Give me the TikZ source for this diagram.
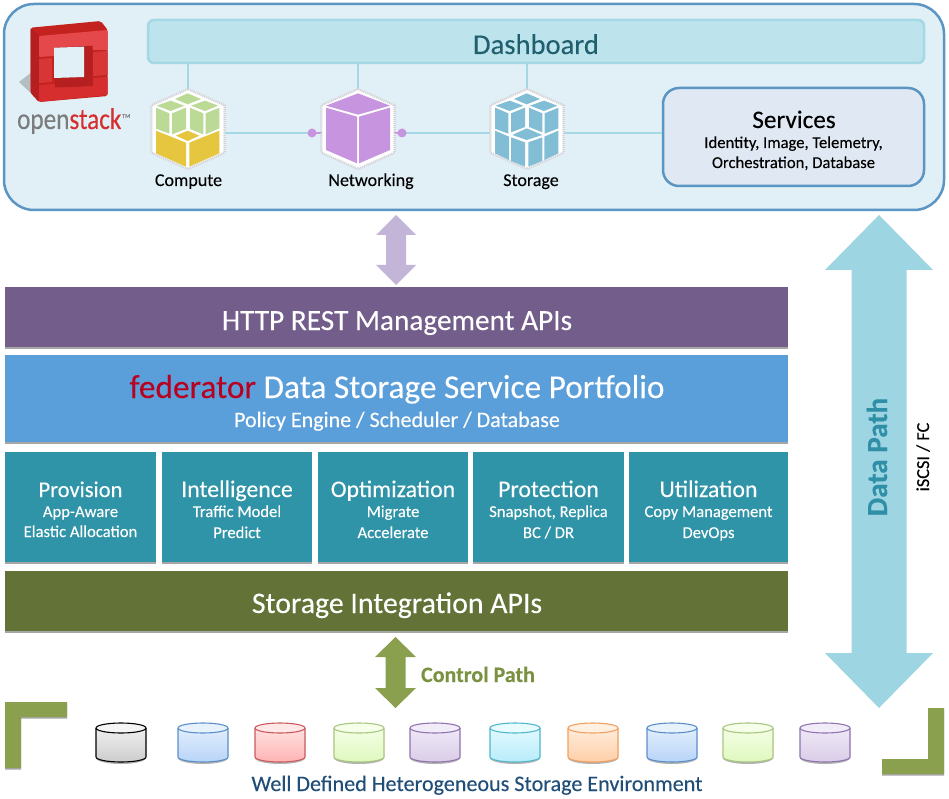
\documentclass[tikz,border=0pt]{standalone}
\usepackage{fontspec}
\setmainfont{Carlito}[FakeBold=0.15]
\usetikzlibrary{calc,shadows}
\definecolor{panelfill}{HTML}{E1F0F6}
\definecolor{panelline}{HTML}{5B95C4}
\definecolor{dashfill}{HTML}{BDE3EC}
\definecolor{dashline}{HTML}{A3D8E4}
\definecolor{servfill}{HTML}{E0E9F3}
\definecolor{linkline}{HTML}{A3D8E4}
\definecolor{barpurple}{HTML}{735E8B}
\definecolor{barblue}{HTML}{5B9FDA}
\definecolor{barteal}{HTML}{2F94A8}
\definecolor{barolive}{HTML}{637338}
\definecolor{arrowolive}{HTML}{8AA04F}
\definecolor{arrowpurple}{HTML}{C3B5D8}
\definecolor{arrowblue}{HTML}{9DD5E3}
\definecolor{textdash}{HTML}{1F5F6E}
\definecolor{textdata}{HTML}{2F8FA6}
\definecolor{textctrl}{HTML}{7A9140}
\definecolor{textwell}{HTML}{1F4E79}
\definecolor{fedred}{HTML}{B80020}
\definecolor{cubegreen}{HTML}{BBDA96}
\definecolor{cubeyellow}{HTML}{E6C63E}
\definecolor{cubepurple}{HTML}{C795E0}
\definecolor{cubeblue}{HTML}{82BDD6}
\definecolor{stampgrey}{HTML}{D6D2D6}
\definecolor{osfront}{HTML}{E5484B}
\definecolor{osmid}{HTML}{D83636}
\definecolor{oslow}{HTML}{D62E2E}
\definecolor{osdark}{HTML}{B51F1F}
\definecolor{ostop}{HTML}{C4221F}
\definecolor{osgrey}{HTML}{7A7C7E}
\definecolor{osshadow}{HTML}{B4BDC0}
\definecolor{gline}{HTML}{000000}\definecolor{gtop}{HTML}{F5F5F5}\definecolor{gbot}{HTML}{CCCCCC}
\definecolor{bline}{HTML}{5B8FC9}\definecolor{btop}{HTML}{E8F2FD}\definecolor{bbot}{HTML}{B8D4F8}
\definecolor{rline}{HTML}{CC5A5F}\definecolor{rtop}{HTML}{FFE8E8}\definecolor{rbot}{HTML}{FFB3B3}
\definecolor{nline}{HTML}{A8C680}\definecolor{ntop}{HTML}{F6FFEA}\definecolor{nbot}{HTML}{E0F8C0}
\definecolor{vline}{HTML}{8F74AE}\definecolor{vtop}{HTML}{F2ECF9}\definecolor{vbot}{HTML}{DACDE8}
\definecolor{cline}{HTML}{4FB8CC}\definecolor{ctop}{HTML}{E8FBFF}\definecolor{cbot}{HTML}{B8ECFA}
\definecolor{oline}{HTML}{F0A060}\definecolor{otop}{HTML}{FFF0E2}\definecolor{obot}{HTML}{FFCFA8}
\tikzset{
  fs/.style={font=\fontsize{#1}{#1}\selectfont},
  softshadow/.style={drop shadow={shadow xshift=0pt,shadow yshift=-1.5pt,fill=black,opacity=.35}},
  bar/.style={rectangle,inner sep=0pt,softshadow},
  lbl/.style={inner sep=0pt,anchor=base,align=center},
  wlbl/.style={lbl,text=white},
  link/.style={draw=linkline,line width=1.5pt},
}
\newcommand{\stamphex}{%
  \fill[white] (0,-118) -- (108,-70) -- (108,70) -- (0,118) -- (-108,70) -- (-108,-70) -- cycle;
  \draw[stampgrey,line width=2.4pt,dash pattern=on 1pt off 1pt] (0,-120) -- (110,-71) -- (110,71) -- (0,120) -- (-110,71) -- (-110,-71) -- cycle;
}
\newcommand{\blockarrow}[6]{%
  \fill[#1] (#2) -- ($(#2)+(#4,#6)$) -- ($(#2)+(#5,#6)$) -- ($(#3)+(#5,-#6)$) -- ($(#3)+(#4,-#6)$) -- (#3)
    -- ($(#3)+(-#4,-#6)$) -- ($(#3)+(-#5,-#6)$) -- ($(#2)+(-#5,#6)$) -- ($(#2)+(-#4,#6)$) -- cycle;
}
\newcommand{\storecyl}[5]{%
  \coordinate (#1) at (#2,728);
  \fill[black,opacity=.3] (#2-25,732) -- (#2-25,758) arc[start angle=180,end angle=0,x radius=25,y radius=6] -- (#2+25,732) -- cycle;
  \shade[top color=#4,bottom color=#5] (#2-25,728) arc[start angle=180,end angle=360,x radius=25,y radius=5] -- (#2+25,757) arc[start angle=0,end angle=180,x radius=25,y radius=5] -- cycle;
  \draw[#3,line width=1.1pt,fill=#4] (#1) ellipse[x radius=25,y radius=5];
  \draw[#3,line width=1.1pt] (#2-25,728) -- (#2-25,757) arc[start angle=180,end angle=0,x radius=25,y radius=5] -- (#2+25,728);
}
\begin{document}
\begin{tikzpicture}[x=1pt,y=-1pt]
\useasboundingbox (0,0) rectangle (949,799);
\fill[white] (0,0) rectangle (949,799);

% top panel
\draw[panelline,fill=panelfill,line width=2.5pt,rounded corners=30pt] (4,4) rectangle (944,210);
\node (dash) at (536,41.5) [rectangle,draw=dashline,fill=dashfill,line width=2.5pt,rounded corners=6pt,minimum width=776pt,minimum height=43pt,inner sep=0pt] {};
\node (services) at (793.5,137) [rectangle,draw=panelline,fill=servfill,line width=2.5pt,rounded corners=16pt,minimum width=261pt,minimum height=98pt,inner sep=0pt] {};
\node[lbl,fs=28.6,text=textdash] (dashlabel) at (536,54) {Dashboard};
\node[lbl,fs=25.2] (servlabel) at (794,128) {Services};
\node[lbl,fs=16.6] (servline1) at (793.5,148) {Identity, Image, Telemetry,};
\node[lbl,fs=16.6] (servline2) at (793.5,168) {Orchestration, Database};

% connectors
\coordinate (computeC) at (188,129);
\coordinate (netC) at (358,129);
\coordinate (storC) at (527,129);
\coordinate (netDotL) at (312,133);
\coordinate (netDotR) at (402,133);
\coordinate (computeR) at (225,133);
\coordinate (storL) at (490,133);
\coordinate (storR) at (564,133);
\draw[link] (dash.south -| computeC) -- (computeC);
\draw[link] (dash.south -| netC) -- (netC);
\draw[link] (dash.south -| storC) -- (storC);
\draw[link] (computeR) -- (netDotL);
\draw[link] (netDotR) -- (storL);
\draw[link] (storR) -- (services.west |- storR);

% compute icon
\begin{scope}[shift={(computeC)},x=0.3333pt,y=-0.3333pt]
  \stamphex
  \fill[cubegreen] (-1,-107) -- (39,-90) -- (-1,-74) -- (-39,-90) -- cycle;
  \fill[cubegreen] (-52,-85) -- (-11,-70) -- (-52,-54) -- (-94,-70) -- cycle;
  \fill[cubegreen] (51,-85) -- (91,-70) -- (51,-54) -- (9,-70) -- cycle;
  \fill[cubegreen] (-96,-64) -- (-56,-47) -- (-56,14) -- (-96,-1) -- cycle;
  \fill[cubegreen] (-48,-47) -- (-6,-64) -- (-6,0) -- (-48,16) -- cycle;
  \fill[cubegreen] (6,-64) -- (46,-47) -- (46,16) -- (6,0) -- cycle;
  \fill[cubegreen] (53,-47) -- (94,-64) -- (94,-2) -- (53,16) -- cycle;
  \fill[cubeyellow] (-1,5) -- (34,20) -- (-1,36) -- (-36,20) -- cycle;
  \fill[cubeyellow] (-96,5) -- (-6,41) -- (-6,113) -- (-96,73) -- cycle;
  \fill[cubeyellow] (4,41) -- (94,5) -- (94,73) -- (4,113) -- cycle;
\end{scope}
% storage icon
\begin{scope}[shift={(storC)},x=0.3333pt,y=-0.3333pt]
  \stamphex
  \fill[cubeblue] (-1,-107) -- (39,-90) -- (-1,-74) -- (-39,-90) -- cycle;
  \fill[cubeblue] (-52,-85) -- (-11,-70) -- (-52,-54) -- (-94,-70) -- cycle;
  \fill[cubeblue] (51,-85) -- (91,-70) -- (51,-54) -- (9,-70) -- cycle;
  \fill[cubeblue] (-96,-64) -- (-56,-47) -- (-56,14) -- (-96,-1) -- cycle;
  \fill[cubeblue] (-48,-47) -- (-6,-64) -- (-6,-6) -- (-48,10) -- cycle;
  \fill[cubeblue] (6,-64) -- (46,-47) -- (46,10) -- (6,-6) -- cycle;
  \fill[cubeblue] (53,-47) -- (94,-64) -- (94,-2) -- (53,14) -- cycle;
  \fill[cubeblue] (-1,-2) -- (46,18) -- (-1,33) -- (-44,18) -- cycle;
  \fill[cubeblue] (-96,5) -- (-54,23) -- (-54,93) -- (-96,73) -- cycle;
  \fill[cubeblue] (-48,25) -- (-6,40) -- (-6,113) -- (-48,96) -- cycle;
  \fill[cubeblue] (4,40) -- (46,25) -- (46,96) -- (4,113) -- cycle;
  \fill[cubeblue] (52,23) -- (94,5) -- (94,73) -- (52,93) -- cycle;
\end{scope}
% networking icon and its two ports
\draw[cubepurple,line width=2pt] (netDotL) -- (netDotR);
\begin{scope}[shift={(netC)},x=0.3333pt,y=-0.3333pt]
  \stamphex
  \fill[cubepurple] (0,-107) -- (96,-70) -- (0,-43) -- (-96,-70) -- cycle;
  \fill[cubepurple] (-96,-64) -- (-3,-37) -- (-3,103) -- (-96,63) -- cycle;
  \fill[cubepurple] (3,-37) -- (96,-64) -- (96,63) -- (3,103) -- cycle;
\end{scope}
\fill[cubepurple] (netDotL) circle[radius=4.5];
\fill[cubepurple] (netDotR) circle[radius=4.5];
\node[lbl,fs=18] (computelabel) at (188.5,186) {Compute};
\node[lbl,fs=18] (netlabel) at (371,186) {Networking};
\node[lbl,fs=18] (storlabel) at (531,186) {Storage};

% OpenStack logo
\fill[osshadow] (19,82) -- (30.7,73) -- (30.7,93) -- cycle;
\fill[ostop,rounded corners=2pt] (30.7,27.7) -- (100.7,21) -- (107.7,30) -- (107.7,96) -- (39,102) -- (30.7,93) -- cycle;
\fill[osdark,rounded corners=1pt] (30.7,27.7) -- (39,36) -- (39,102) -- (30.7,93) -- cycle;
\fill[osfront,rounded corners=1pt] (39,36) -- (107.7,30) -- (107.7,50) -- (92,50) -- (92,46) -- (54,48) -- (54,56) -- (39,57) -- cycle;
\fill[osmid] (39,59) -- (52,58) -- (52,82) -- (39,83) -- cycle;
\fill[osmid] (93,52) -- (107.7,51) -- (107.7,75) -- (93,76) -- cycle;
\fill[oslow,rounded corners=1pt] (39,85) -- (55,84) -- (55,87) -- (93,86) -- (93,78) -- (107.7,77) -- (107.7,95) -- (39,102) -- cycle;
\fill[osdark] (54,47.7) -- (92.7,45.7) -- (92.7,86) -- (55,87.5) -- cycle;
\fill[panelfill] (54,47.7) -- (84,46.7) -- (84,77) -- (54,78) -- cycle;
\node[lbl,fs=30,anchor=base west,xscale=.84] (oslogo) at (17,129) {\textcolor{osgrey}{open}\textcolor{oslow}{stack}};
\node[lbl,fs=6,anchor=base west,text=osgrey] (ostm) at (122,118) {TM};

% stack of bars
\node[bar,fill=barpurple,minimum width=783pt,minimum height=60pt] (rest) at (396.5,317) {};
\node[bar,fill=barblue,minimum width=783pt,minimum height=87pt] (federator) at (396.5,398.5) {};
\node[bar,fill=barteal,minimum width=151pt,minimum height=110pt] (provision) at (80.5,507) {};
\node[bar,fill=barteal,minimum width=150pt,minimum height=110pt] (intelligence) at (237,507) {};
\node[bar,fill=barteal,minimum width=150pt,minimum height=110pt] (optimization) at (393,507) {};
\node[bar,fill=barteal,minimum width=151pt,minimum height=110pt] (protection) at (548.5,507) {};
\node[bar,fill=barteal,minimum width=159pt,minimum height=110pt] (utilization) at (708.5,507) {};
\node[bar,fill=barolive,minimum width=783pt,minimum height=60pt] (integration) at (396.5,601) {};

\node[wlbl,fs=29.3] (restlabel) at (397,330) {HTTP REST Management APIs};
\node[wlbl,fs=33.3] (fedlabel) at (397,398) {\textcolor{fedred}{federator} Data Storage Service Portfolio};
\node[wlbl,fs=22] (fedsub) at (397,427) {Policy Engine / Scheduler / Database};
\node[wlbl,fs=22.5] (t1) at (80.5,497) {Provision};
\node[wlbl,fs=16.6] (s1a) at (80.5,517) {App-Aware};
\node[wlbl,fs=16.6] (s1b) at (80.5,537) {Elastic Allocation};
\node[wlbl,fs=23.8] (t2) at (237,497) {Intelligence};
\node[wlbl,fs=16.6] (s2a) at (237,517) {Traffic Model};
\node[wlbl,fs=16.6] (s2b) at (237,538) {Predict};
\node[wlbl,fs=23.8] (t3) at (393,497) {Optimization};
\node[wlbl,fs=16.6] (s3a) at (393,517) {Migrate};
\node[wlbl,fs=16.6] (s3b) at (393,538) {Accelerate};
\node[wlbl,fs=23.8] (t4) at (548.5,497) {Protection};
\node[wlbl,fs=16.6] (s4a) at (548.5,517) {Snapshot, Replica};
\node[wlbl,fs=16.6] (s4b) at (548.5,538) {BC / DR};
\node[wlbl,fs=23.8] (t5) at (708.5,497) {Utilization};
\node[wlbl,fs=16.6] (s5a) at (708.5,517) {Copy Management};
\node[wlbl,fs=16.6] (s5b) at (708.5,538) {DevOps};
\node[wlbl,fs=29.8] (intlabel) at (397,613) {Storage Integration APIs};

% block arrows
\coordinate (mgmtTop) at (396,215);
\coordinate (mgmtBot) at (396,285);
\coordinate (ctrlTop) at (395.5,637);
\coordinate (ctrlBot) at (395.5,708);
\coordinate (dataTop) at (879,215);
\coordinate (dataBot) at (879,708);
\blockarrow{arrowpurple}{mgmtTop}{mgmtBot}{20}{10}{20}
\blockarrow{arrowolive}{ctrlTop}{ctrlBot}{20.5}{10}{20}
\blockarrow{arrowblue}{dataTop}{dataBot}{54}{27.5}{55}
\node[lbl,text=textdata,rotate=90,font=\fontsize{29.2}{29.2}\selectfont\bfseries] (datalabel) at (887,457) {Data Path};
\node[lbl,fs=18.3,rotate=90] (iscsi) at (929,457) {iSCSI / FC};
\node[lbl,text=textctrl,font=\fontsize{22}{22}\selectfont\bfseries] (ctrllabel) at (478,682) {Control Path};

% corner brackets
\fill[arrowolive,softshadow] (5,702) -- (67,702) -- (67,717) -- (21,717) -- (21,768) -- (5,768) -- cycle;
\fill[arrowolive,softshadow] (944,708) -- (944,774) -- (882,774) -- (882,759) -- (928,759) -- (928,708) -- cycle;

% storage cylinders
\storecyl{cyl0}{121}{gline}{gtop}{gbot}
\storecyl{cyl1}{203}{bline}{btop}{bbot}
\storecyl{cyl2}{280}{rline}{rtop}{rbot}
\storecyl{cyl3}{359}{nline}{ntop}{nbot}
\storecyl{cyl4}{435}{vline}{vtop}{vbot}
\storecyl{cyl5}{515}{cline}{ctop}{cbot}
\storecyl{cyl6}{593}{oline}{otop}{obot}
\storecyl{cyl7}{672}{bline}{btop}{bbot}
\storecyl{cyl8}{748}{nline}{ntop}{nbot}
\storecyl{cyl9}{825}{vline}{vtop}{vbot}
\node[lbl,fs=22.1,text=textwell] (welllabel) at (477,791) {Well Defined Heterogeneous Storage Environment};
\end{tikzpicture}
\end{document}
